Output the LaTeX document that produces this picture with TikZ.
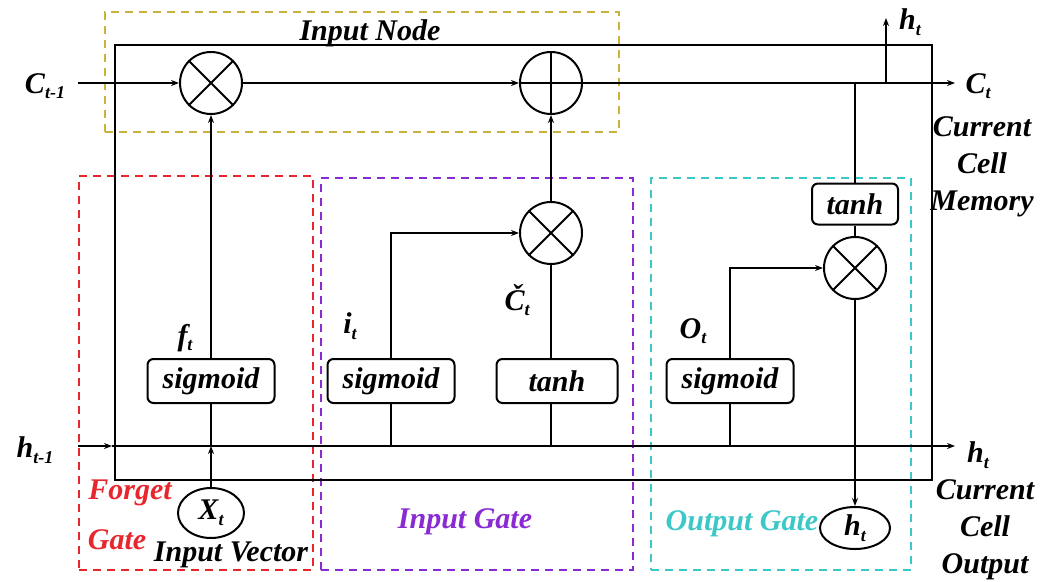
\documentclass[tikz,border=0pt]{standalone}
\usepackage{fontspec}
\setmainfont{Liberation Serif}
\usetikzlibrary{arrows.meta,shapes.geometric}
\newcommand{\sbs}[1]{\raisebox{-0.4ex}{\fontsize{18}{18}\selectfont #1}}
\definecolor{cyel}{HTML}{C8B43C}
\definecolor{cred}{HTML}{E8262E}
\definecolor{cpur}{HTML}{8A2BD2}
\definecolor{ccya}{HTML}{3CC8C8}
\begin{document}
\begin{tikzpicture}[x=1pt,y=-1pt,
  line width=2pt,
  txt/.style={font=\fontsize{30}{34}\selectfont\bfseries\itshape, inner sep=0pt},
  arr/.style={-{Stealth[length=8pt,width=6pt]}},
  gbox/.style={draw, rounded corners=6pt, minimum height=44pt, inner sep=0pt, font=\fontsize{30}{34}\selectfont\bfseries\itshape},
  opc/.style={circle, draw, minimum size=62pt, inner sep=0pt},
  grp/.style={draw, dash pattern=on 8pt off 6pt, line width=2pt},
  ell/.style={ellipse, draw, inner sep=0pt}
]
\useasboundingbox (0,0) rectangle (1041,581);
\fill[white] (0,0) rectangle (1041,581);

% group boxes
\node[grp, cyel, minimum width=514pt, minimum height=120pt, anchor=north west] (gin) at (104,11) {};
\node[grp, cred, minimum width=234pt, minimum height=394pt, anchor=north west] (gfg) at (78,175) {};
\node[grp, cpur, minimum width=312pt, minimum height=392pt, anchor=north west] (gig) at (320,177) {};
\node[grp, ccya, minimum width=260pt, minimum height=392pt, anchor=north west] (gog) at (650,177) {};

% main cell
\node[draw, minimum width=817pt, minimum height=435pt, anchor=north west, inner sep=0pt] (cell) at (114,44) {};

% operators
\node[opc] (m1) at (211,83) {};
\draw (m1.45) -- (m1.225) (m1.135) -- (m1.315);
\node[opc] (pl) at (551,83) {};
\draw (pl.north) -- (pl.south) (pl.west) -- (pl.east);
\node[opc] (m2) at (551,233) {};
\draw (m2.45) -- (m2.225) (m2.135) -- (m2.315);
\node[opc] (m3) at (855,268) {};
\draw (m3.45) -- (m3.225) (m3.135) -- (m3.315);

% activation boxes
\node[gbox, minimum width=127pt] (sigF) at (211,381) {sigmoid};
\node[gbox, minimum width=127pt] (sigI) at (391,381) {sigmoid};
\node[gbox, minimum width=121pt] (tanhI) at (557,381) {tanh};
\node[gbox, minimum width=127pt] (sigO) at (730,381) {sigmoid};
\node[gbox, minimum width=86pt, minimum height=41pt] (tanhO) at (855,204) {tanh};

% ellipses
\node[ell, minimum width=66pt, minimum height=50pt, txt] (xt) at (211,513) {X\sbs{t}};
\node[ell, minimum width=70pt, minimum height=42pt, txt] (ht) at (855,528) {h\sbs{t}};

% coordinates
\coordinate (cst) at (78,83);
\coordinate (cen) at (955,83);
\coordinate (hst) at (78,446);
\coordinate (hmd) at (112,446);
\coordinate (hen) at (955,446);
\coordinate (hup0) at (886,83);
\coordinate (hup) at (886,18);

% cell state line
\draw[arr] (cst) -- (m1.west);
\draw[arr] (m1.east) -- (pl.west);
\draw[arr] (pl.east) -- (cen);
\draw[arr] (hup0) -- (hup);

% hidden line
\draw[arr] (hst) -- (hmd);
\draw[arr] (hmd) -- (hen);

% forget gate
\draw[arr] (xt.north) -- (xt.north |- hst);
\draw (xt.north |- hst) -- (sigF.south);
\draw[arr] (sigF.north) -- (m1.south);

% input gate
\draw (sigI.south) -- (sigI.south |- hst);
\draw[arr] (sigI.north) |- (m2.west);
\draw (m2.south |- tanhI.south) -- (m2.south |- hst);
\draw (m2.south |- tanhI.north) -- (m2.south);
\draw[arr] (m2.north) -- (pl.south);

% output gate
\draw (sigO.south) -- (sigO.south |- hst);
\draw[arr] (sigO.north) |- (m3.west);
\draw (tanhO.north) -- (tanhO.north |- cen);
\draw (tanhO.south) -- (m3.north);
\draw[arr] (m3.south) -- (ht.north);

% labels
\node[txt] (lin) at (370,33) {Input Node};
\node[txt] (lcin) at (45,86) {C\sbs{t-1}};
\node[txt] (lct) at (978,86) {C\sbs{t}};
\node[txt] (lhtu) at (910,22) {h\sbs{t}};
\node[txt] (lhin) at (35,450) {h\sbs{t-1}};
\node[txt] (lhto) at (978,455) {h\sbs{t}};
\node[txt] (lft) at (185,338) {f\sbs{t}};
\node[txt] (lit) at (350,326) {i\sbs{t}};
\node[txt] (lct2) at (517,300) {Č\sbs{t}};
\node[txt] (lot) at (693,331) {O\sbs{t}};
\node[txt, align=center] (lmem) at (982,167) {Current\\[3pt]Cell\\[3pt]Memory};
\node[txt, align=center] (lout) at (985,530) {Current\\[3pt]Cell\\[3pt]Output};
\node[txt, cred] (lfg1) at (130,493) {Forget};
\node[txt, cred] (lfg2) at (117,540) {Gate};
\node[txt] (liv) at (231,555) {Input Vector};
\node[txt, cpur] (lig) at (465,522) {Input Gate};
\node[txt, ccya] (log) at (742,524) {Output Gate};
\end{tikzpicture}
\end{document}
